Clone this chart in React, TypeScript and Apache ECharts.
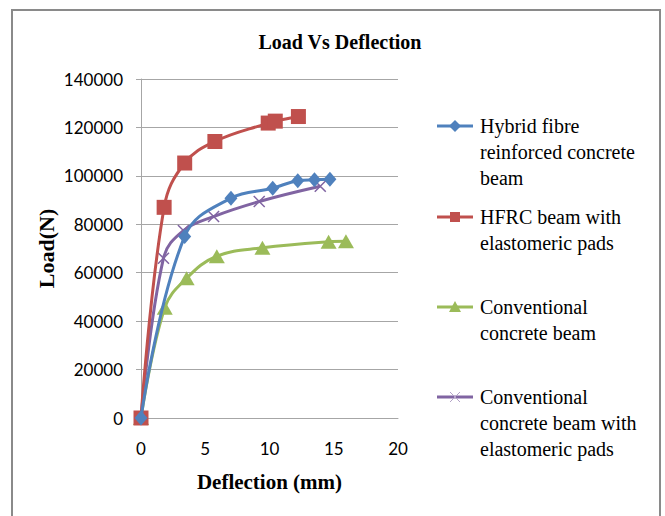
import React, { useEffect, useRef } from "react";
import * as echarts from "echarts";

const seriesNames = [
  "Hybrid fibre\nreinforced concrete\nbeam",
  "HFRC beam with\nelastomeric pads",
  "Conventional\nconcrete beam",
  "Conventional\nconcrete beam with\nelastomeric pads",
];
const colors = ["#4F81BD", "#C0504D", "#9BBB59", "#8064A2"];

const hybridX = [0, 3.4, 7.0, 10.25, 12.2, 13.5, 14.7];
const hybridY = [0, 75000, 90800, 94900, 98000, 98400, 98600];

const hfrcPadX = [0, 1.8, 3.4, 5.75, 9.9, 10.45, 12.25];
const hfrcPadY = [0, 87000, 105300, 114200, 121800, 122600, 124500];

const convX = [0, 1.85, 3.55, 5.9, 9.45, 14.6, 15.95];
const convY = [0, 45500, 57700, 66800, 70300, 72800, 73000];

const convPadX = [0, 1.75, 3.3, 5.65, 9.2, 13.95];
const convPadY = [0, 66000, 77400, 83200, 89400, 95700];

const xTicks = { min: 0, max: 20, interval: 5 };
const yTicks = { min: 0, max: 140000, interval: 20000 };

const CROSS = "path://M0,0L10,10M10,0L0,10";

function zip(xs: number[], ys: number[]) {
  return xs.map((x, i) => [x, ys[i]]);
}

export default function App() {
  const ref = useRef<HTMLDivElement>(null);
  useEffect(() => {
    if (!ref.current) return;
    const chart = echarts.init(ref.current, null, { renderer: "svg" });
    const serif = "Liberation Serif";
    const sans = "Lato";
    const symbols = ["diamond", "rect", "triangle", CROSS];
    const sizes: any[] = [[13, 15], 15, [16, 14], 11];
    const datas = [
      zip(hybridX, hybridY),
      zip(hfrcPadX, hfrcPadY),
      zip(convX, convY),
      zip(convPadX, convPadY),
    ];

    const legendTop = [113, 204, 294, 384];
    const legendGraphics: any[] = [];
    const legendTitles: any[] = [];
    seriesNames.forEach((name, i) => {
      const cy = legendTop[i] + 13;
      legendGraphics.push({
        type: "line",
        shape: { x1: 437, y1: cy, x2: 473, y2: cy },
        style: { stroke: colors[i], lineWidth: 3 },
      });
      if (i === 0) {
        legendGraphics.push({
          type: "polygon",
          shape: { points: [[455, cy - 6], [461, cy], [455, cy + 6], [449, cy]] },
          style: { fill: colors[i] },
        });
      } else if (i === 1) {
        legendGraphics.push({
          type: "rect",
          shape: { x: 450, y: cy - 5, width: 10, height: 10 },
          style: { fill: colors[i] },
        });
      } else if (i === 2) {
        legendGraphics.push({
          type: "polygon",
          shape: { points: [[455, cy - 6], [461, cy + 5], [449, cy + 5]] },
          style: { fill: colors[i] },
        });
      } else {
        legendGraphics.push({
          type: "line",
          shape: { x1: 450, y1: cy - 5, x2: 460, y2: cy + 5 },
          style: { stroke: "#B3A2C7", lineWidth: 1 },
        });
        legendGraphics.push({
          type: "line",
          shape: { x1: 460, y1: cy - 5, x2: 450, y2: cy + 5 },
          style: { stroke: "#B3A2C7", lineWidth: 1 },
        });
      }
      legendTitles.push({
        text: name,
        left: 475,
        top: legendTop[i] - 5,
        textStyle: {
          fontFamily: serif,
          fontSize: 20,
          fontWeight: "normal",
          color: "#000",
          lineHeight: 26,
        },
      });
    });

    chart.setOption({
      animation: false,
      backgroundColor: "#fff",
      title: [
        {
          text: "Load Vs Deflection",
          left: 335,
          top: 27,
          textAlign: "center",
          textStyle: { fontFamily: serif, fontWeight: "bold", fontSize: 20, color: "#000" },
        },
        ...legendTitles,
      ],
      graphic: [
        {
          type: "rect",
          shape: { x: 12, y: 10, width: 648, height: 530 },
          style: { fill: "none", stroke: "#8A8A8A", lineWidth: 2 },
          silent: true,
        },
        ...legendGraphics,
      ],
      grid: { left: 141, right: 267, top: 79, bottom: 98, containLabel: false },
      xAxis: {
        type: "value",
        min: xTicks.min,
        max: xTicks.max,
        interval: xTicks.interval,
        name: "Deflection (mm)",
        nameLocation: "middle",
        nameGap: 53,
        nameTextStyle: { fontFamily: serif, fontWeight: "bold", fontSize: 21, color: "#000" },
        axisLine: { show: true, lineStyle: { color: "#A6A6A6", width: 1 } },
        axisTick: { show: false },
        axisLabel: { margin: 22, fontFamily: sans, fontSize: 17, color: "#000" },
        splitLine: { show: false },
      },
      yAxis: {
        type: "value",
        min: yTicks.min,
        max: yTicks.max,
        interval: yTicks.interval,
        name: "Load(N)",
        nameLocation: "middle",
        nameGap: 84,
        nameTextStyle: { fontFamily: serif, fontWeight: "bold", fontSize: 22, color: "#000" },
        axisLine: { show: true, lineStyle: { color: "#A6A6A6", width: 1 } },
        axisTick: { show: true, length: 5, lineStyle: { color: "#A6A6A6" } },
        axisLabel: {
          margin: 18,
          fontFamily: sans,
          fontSize: 17,
          color: "#000",
          formatter: (v: number) => String(v),
        },
        splitLine: { show: true, lineStyle: { color: "#A6A6A6", width: 1 } },
      },
      series: datas.map((d, i) => ({
        name: seriesNames[i],
        type: "line",
        data: d,
        smooth: 0.4,
        symbol: symbols[i],
        symbolSize: sizes[i],
        showAllSymbol: true,
        lineStyle: { color: colors[i], width: 3 },
        itemStyle:
          i === 3
            ? { color: colors[i], borderColor: colors[i], borderWidth: 1.5 }
            : { color: colors[i] },
        z: 10 - i,
      })),
    });
    return () => chart.dispose();
  }, []);
  return (
    <div
      ref={ref}
      style={{ position: "fixed", left: 0, top: 0, width: 665, height: 516 }}
    />
  );
}
